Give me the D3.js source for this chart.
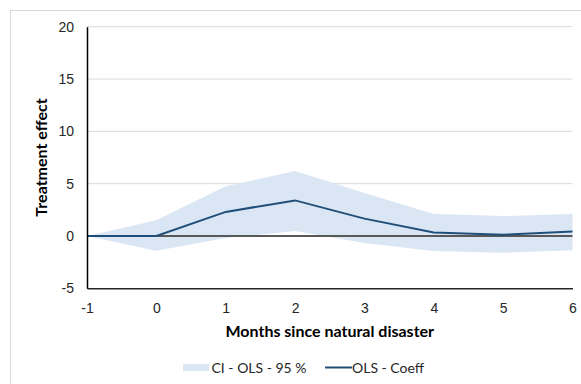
<!DOCTYPE html>
<html>
<head>
<meta charset="utf-8">
<script src="https://cdn.jsdelivr.net/npm/d3@7"></script>
<style>
  body { margin: 0; background: #fff; }
  svg { display: block; font-family: Lato, "Open Sans", sans-serif; }
</style>
</head>
<body>
<div id="chart"></div>
<script>
// data
const months = [-1, 0, 1, 2, 3, 4, 5, 6];
const coeff = [0, 0, 2.3, 3.4, 1.66, 0.33, 0.12, 0.42];
const ciUpper = [0, 1.5, 4.75, 6.2, 4.1, 2.1, 1.9, 2.1];
const ciLower = [0, -1.4, -0.2, 0.48, -0.67, -1.43, -1.6, -1.37];
const yTicks = [-5, 0, 5, 10, 15, 20];

const WIDTH = 581;
const HEIGHT = 384;
const MARGINS = { left: 87, right: 8.5, top: 26.7, bottom: 95.7 };
const VIS_WIDTH = WIDTH - MARGINS.left - MARGINS.right;
const VIS_HEIGHT = HEIGHT - MARGINS.top - MARGINS.bottom;

const FRAME = d3.select("#chart")
    .append("svg")
    .attr("width", WIDTH)
    .attr("height", HEIGHT);

// chart area border
FRAME.append("rect")
    .attr("x", 10.5)
    .attr("y", 10.5)
    .attr("width", WIDTH)
    .attr("height", HEIGHT)
    .attr("fill", "none")
    .attr("stroke", "#d9d9d9");

const xScale = d3.scaleLinear()
    .domain([-1, 6])
    .range([0, VIS_WIDTH]);
const yScale = d3.scaleLinear()
    .domain([-5, 20])
    .range([VIS_HEIGHT, 0]);

const G = FRAME.append("g")
    .attr("transform", "translate(" + MARGINS.left + "," + MARGINS.top + ")");

// gridlines
G.selectAll(".grid")
    .data(yTicks.filter(d => d > 0))
    .enter()
    .append("line")
    .attr("x1", 0)
    .attr("x2", VIS_WIDTH)
    .attr("y1", d => yScale(d))
    .attr("y2", d => yScale(d))
    .attr("stroke", "#d9d9d9")
    .attr("stroke-width", 1);

const rows = months.map((m, i) => ({ m: m, c: coeff[i], lo: ciLower[i], hi: ciUpper[i] }));

// confidence band
G.append("path")
    .datum(rows)
    .attr("fill", "#dae6f4")
    .attr("d", d3.area()
        .x(d => xScale(d.m))
        .y0(d => yScale(d.lo))
        .y1(d => yScale(d.hi)));

// zero line
G.append("line")
    .attr("x1", 0)
    .attr("x2", VIS_WIDTH)
    .attr("y1", yScale(0))
    .attr("y2", yScale(0))
    .attr("stroke", "#595959")
    .attr("stroke-width", 2);

// coefficient line
G.append("path")
    .datum(rows)
    .attr("fill", "none")
    .attr("stroke", "#1f4e79")
    .attr("stroke-width", 2)
    .attr("d", d3.line()
        .x(d => xScale(d.m))
        .y(d => yScale(d.c)));

// plain hyphen minus like the original
const fmt = d => String(d);

// x axis at the bottom
const xAxis = G.append("g")
    .attr("transform", "translate(0," + VIS_HEIGHT + ")")
    .call(d3.axisBottom(xScale).tickValues(months).tickSize(0).tickPadding(15).tickFormat(fmt));
xAxis.select(".domain").attr("stroke", "#262626").attr("stroke-width", 1.5);
xAxis.selectAll("text").attr("font-size", "14px").attr("fill", "#262626").attr("font-family", null);

// y axis
const yAxis = G.append("g")
    .call(d3.axisLeft(yScale).tickValues(yTicks).tickSize(0).tickPadding(13).tickFormat(fmt));
yAxis.select(".domain").attr("stroke", "#000").attr("stroke-width", 1.5);
yAxis.selectAll("text").attr("font-size", "14px").attr("fill", "#262626").attr("font-family", null);

// axis titles
FRAME.append("text")
    .attr("x", MARGINS.left + VIS_WIDTH / 2)
    .attr("y", 337)
    .attr("text-anchor", "middle")
    .attr("font-size", "16px")
    .attr("font-weight", "bold")
    .attr("fill", "#000")
    .text("Months since natural disaster");

FRAME.append("text")
    .attr("transform", "translate(47," + (MARGINS.top + VIS_HEIGHT / 2) + ") rotate(-90)")
    .attr("text-anchor", "middle")
    .attr("font-size", "16px")
    .attr("font-weight", "bold")
    .attr("fill", "#000")
    .text("Treatment effect");

// legend
const LEG = FRAME.append("g").attr("transform", "translate(0,367.5)");
LEG.append("rect")
    .attr("x", 183)
    .attr("y", -3.5)
    .attr("width", 26)
    .attr("height", 7)
    .attr("fill", "#dae6f4");
LEG.append("text")
    .attr("x", 211.5)
    .attr("y", 5)
    .attr("font-size", "14px")
    .attr("fill", "#262626")
    .text("CI - OLS - 95 %");
LEG.append("line")
    .attr("x1", 325)
    .attr("x2", 352)
    .attr("y1", 0)
    .attr("y2", 0)
    .attr("stroke", "#1f4e79")
    .attr("stroke-width", 2);
LEG.append("text")
    .attr("x", 352)
    .attr("y", 5)
    .attr("font-size", "14px")
    .attr("fill", "#262626")
    .text("OLS - Coeff");
</script>
</body>
</html>
